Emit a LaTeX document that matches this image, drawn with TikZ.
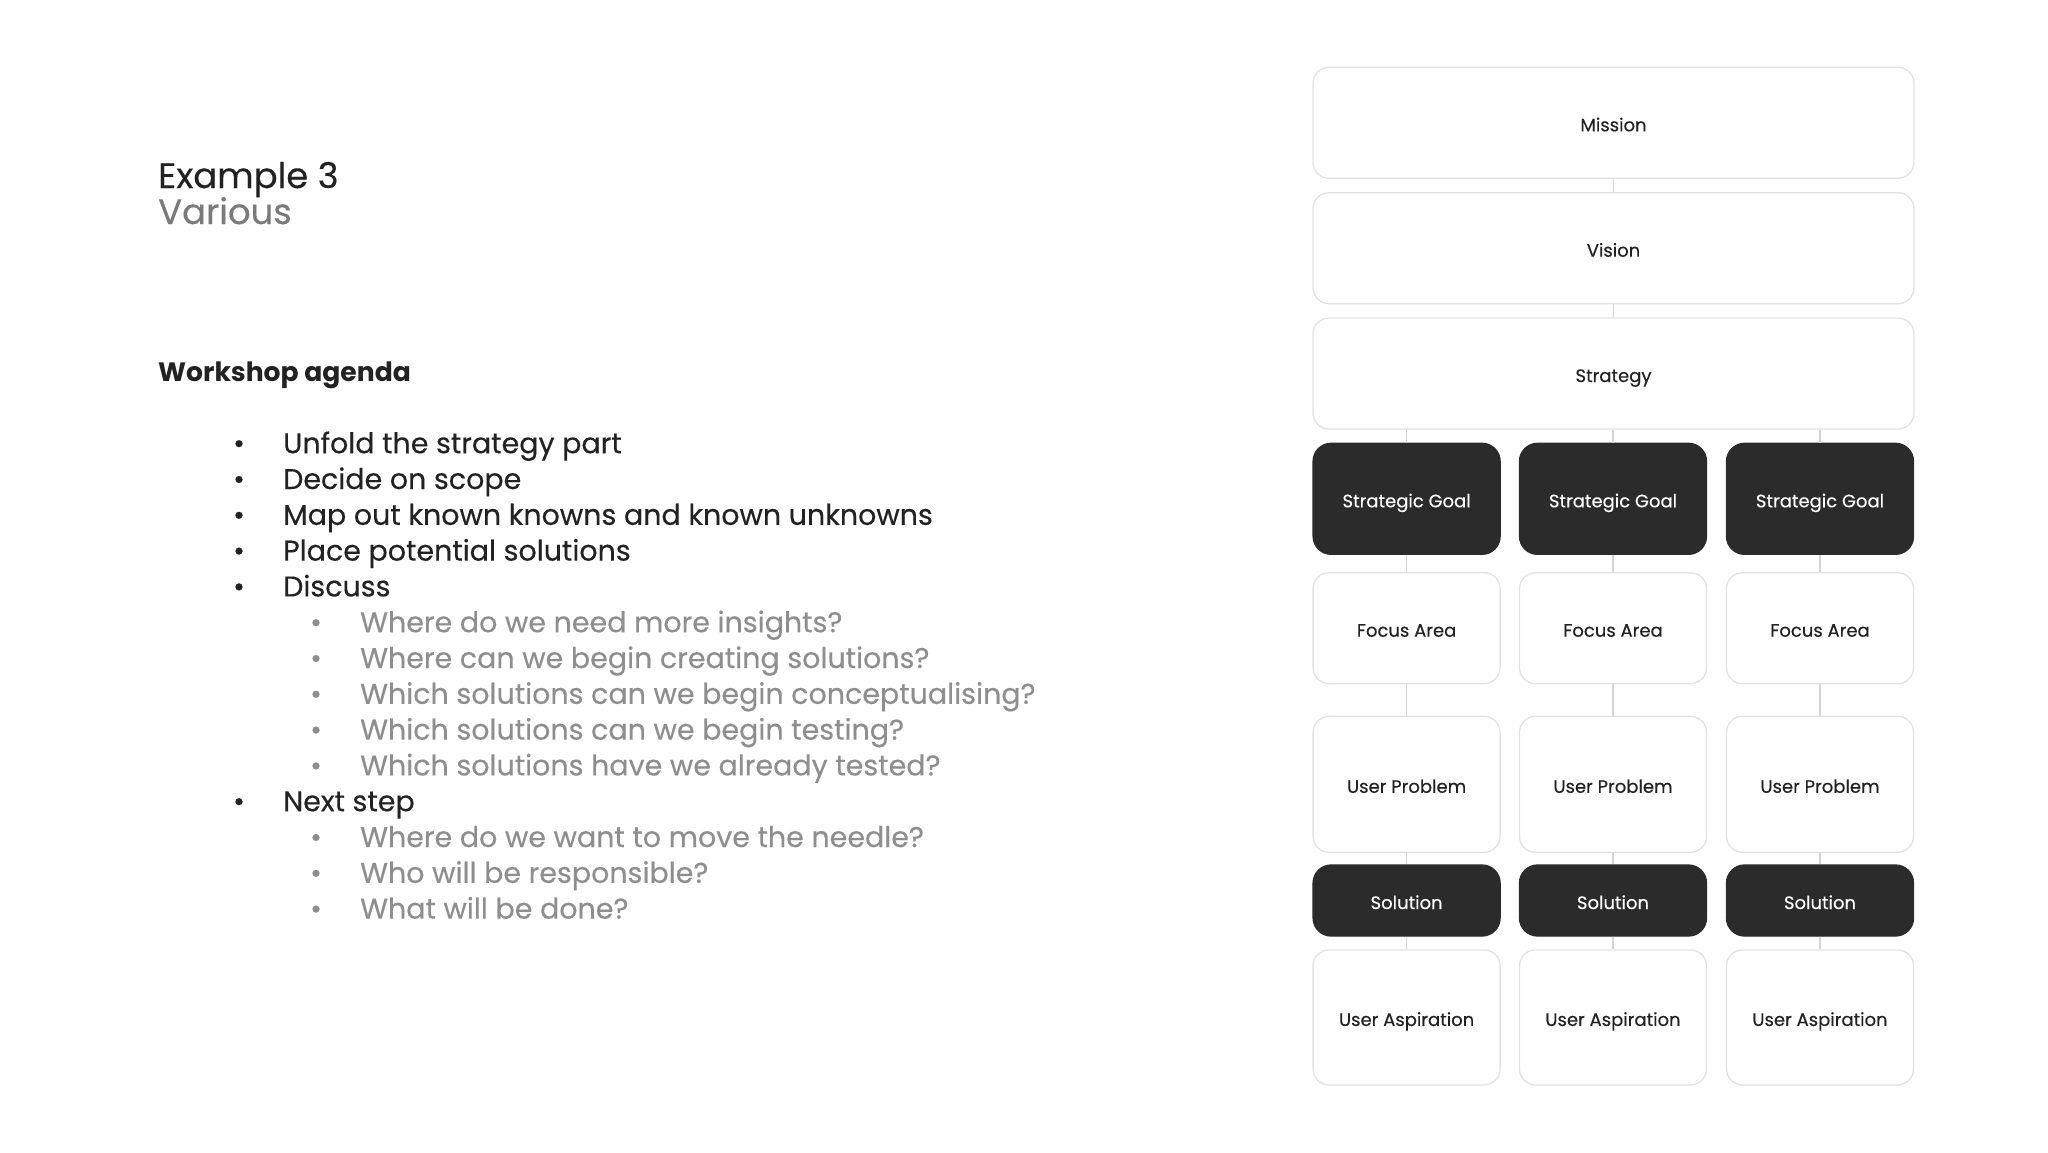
\documentclass[tikz,border=0pt]{standalone}
\usepackage{fontspec}
\setmainfont{Poppins}
\newfontfamily\medfont{Poppins}[FakeBold=0.3]
\definecolor{ink}{HTML}{222222}
\definecolor{subink}{HTML}{8E8E8E}
\definecolor{titlegray}{HTML}{7A7A7A}
\definecolor{boxline}{HTML}{E2E2E2}
\definecolor{connline}{HTML}{D4D4D4}
\definecolor{darkfill}{HTML}{2B2B2B}
\tikzset{
  whitebox/.style={rectangle, rounded corners=16pt, draw=boxline, line width=1.3pt, fill=white,
    inner sep=0pt, text=ink, text height=21pt, text depth=4pt, font=\medfont\fontsize{18}{22}\selectfont},
  darkbox/.style={rectangle, rounded corners=18pt, draw=darkfill, line width=1.3pt, fill=darkfill,
    inner sep=0pt, text=white, text height=21pt, text depth=4pt, font=\medfont\fontsize{18}{22}\selectfont},
  conn/.style={draw=connline, line width=1.3pt},
  mainitem/.style={anchor=base west, inner sep=0pt, text=ink, font=\medfont\fontsize{28.5}{34}\selectfont},
  subitem/.style={anchor=base west, inner sep=0pt, text=subink, font=\medfont\fontsize{28.5}{34}\selectfont},
  mainbul/.style={anchor=base, inner sep=0pt, text=ink, font=\medfont\fontsize{28.5}{34}\selectfont},
  subbul/.style={anchor=base, inner sep=0pt, text=subink, font=\medfont\fontsize{28.5}{34}\selectfont},
}
\begin{document}
\begin{tikzpicture}[x=1pt,y=-1pt]
\useasboundingbox (0,0) rectangle (2048,1152);
\fill[white] (0,0) rectangle (2048,1152);

% ---- left side text ----
\node[anchor=base west, inner sep=0pt, text=ink, font=\medfont\fontsize{35.4}{40}\selectfont] (title) at (158,188) {Example 3};
\node[anchor=base west, inner sep=0pt, text=titlegray, font=\medfont\fontsize{35.4}{40}\selectfont] (subtitle) at (158,224) {Various};
\node[anchor=base west, inner sep=0pt, text=ink, font=\fontsize{26.6}{32}\selectfont\bfseries] (agenda) at (158,381) {Workshop agenda};

\def\mb{239}\def\mt{283}\def\sb{316}\def\st{360}
\node[mainbul] (b1) at (\mb,453.2) {•};  \node[mainitem] (i1) at (\mt,453.2) {Unfold the strategy part};
\node[mainbul] (b2) at (\mb,489) {•};  \node[mainitem] (i2) at (\mt,489) {Decide on scope};
\node[mainbul] (b3) at (\mb,524.8) {•};  \node[mainitem] (i3) at (\mt,524.8) {Map out known knowns and known unknowns};
\node[mainbul] (b4) at (\mb,560.6) {•};  \node[mainitem] (i4) at (\mt,560.6) {Place potential solutions};
\node[mainbul] (b5) at (\mb,596.4) {•};  \node[mainitem] (i5) at (\mt,596.4) {Discuss};
\node[subbul] (s1b) at (\sb,632.2) {•};  \node[subitem] (s1) at (\st,632.2) {Where do we need more insights?};
\node[subbul] (s2b) at (\sb,668) {•};  \node[subitem] (s2) at (\st,668) {Where can we begin creating solutions?};
\node[subbul] (s3b) at (\sb,703.8) {•};  \node[subitem] (s3) at (\st,703.8) {Which solutions can we begin conceptualising?};
\node[subbul] (s4b) at (\sb,739.6) {•};  \node[subitem] (s4) at (\st,739.6) {Which solutions can we begin testing?};
\node[subbul] (s5b) at (\sb,775.4) {•};  \node[subitem] (s5) at (\st,775.4) {Which solutions have we already tested?};
\node[mainbul] (b6) at (\mb,811.2) {•};  \node[mainitem] (i6) at (\mt,811.2) {Next step};
\node[subbul] (s6b) at (\sb,847) {•};  \node[subitem] (s6) at (\st,847) {Where do we want to move the needle?};
\node[subbul] (s7b) at (\sb,882.8) {•};  \node[subitem] (s7) at (\st,882.8) {Who will be responsible?};
\node[subbul] (s8b) at (\sb,918.6) {•};  \node[subitem] (s8) at (\st,918.6) {What will be done?};

% ---- right side hierarchy ----
\node[whitebox, minimum width=601pt, minimum height=111pt] (mission) at (1613.5,122.8) {Mission};
\node[whitebox, minimum width=601pt, minimum height=111pt] (vision) at (1613.5,248.2) {Vision};
\node[whitebox, minimum width=601pt, minimum height=111pt] (strategy) at (1613.5,373.5) {Strategy};

\foreach \c/\x in {1/1406.6,2/1613,3/1820}{
  \node[darkbox, minimum width=187pt, minimum height=111pt] (sg\c) at (\x,498.8) {Strategic Goal};
  \node[whitebox, minimum width=187pt, minimum height=111pt] (fa\c) at (\x,628.2) {Focus Area};
  \node[whitebox, minimum width=187pt, minimum height=136pt] (up\c) at (\x,784.3) {User Problem};
  \node[darkbox, minimum width=187pt, minimum height=71pt] (so\c) at (\x,900.5) {Solution};
  \node[whitebox, minimum width=187pt, minimum height=135pt] (ua\c) at (\x,1017.4) {User Aspiration};
}

\draw[conn] (mission.south) -- (vision.north);
\draw[conn] (vision.south) -- (strategy.north);
\foreach \c in {1,2,3}{
  \draw[conn] (sg\c.north) -- (sg\c.north |- strategy.south);
  \draw[conn] (sg\c.south) -- (fa\c.north);
  \draw[conn] (fa\c.south) -- (up\c.north);
  \draw[conn] (up\c.south) -- (so\c.north);
  \draw[conn] (so\c.south) -- (ua\c.north);
}
\end{tikzpicture}
\end{document}
